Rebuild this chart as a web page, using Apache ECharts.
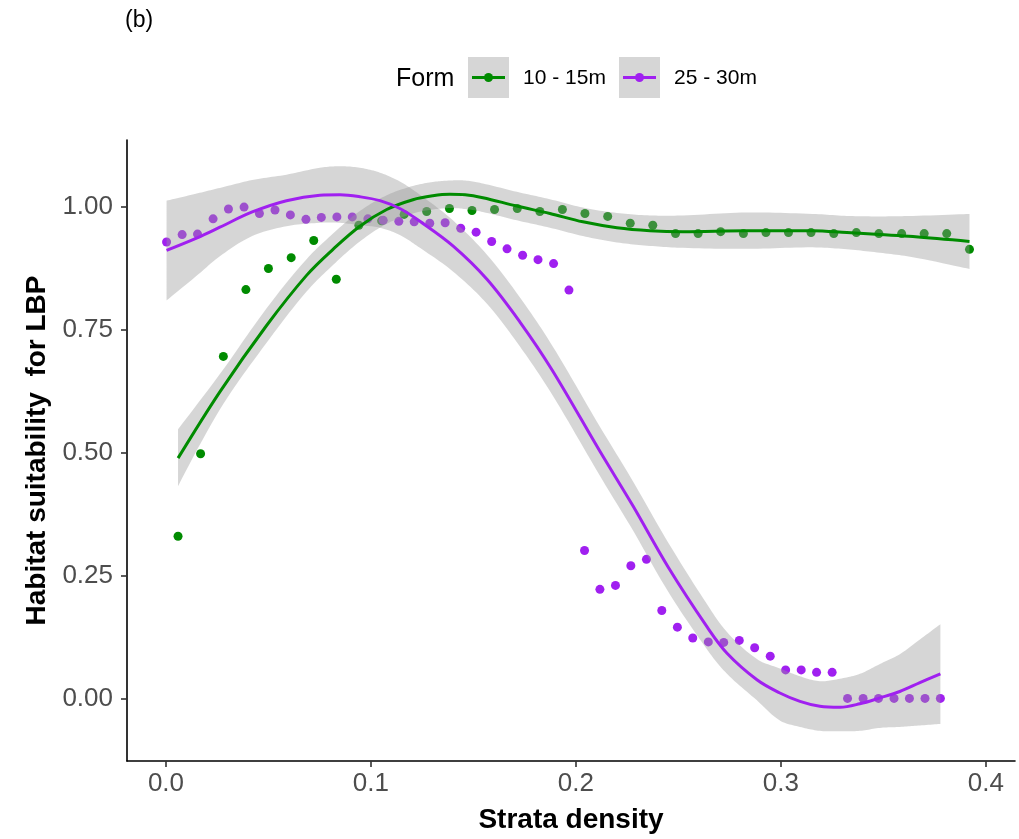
<!DOCTYPE html>
<html>
<head>
<meta charset="utf-8">
<title>Habitat suitability for LBP</title>
<script src="https://cdn.jsdelivr.net/npm/echarts@6/dist/echarts.min.js"></script>
<style>
  html, body { margin: 0; padding: 0; background: #ffffff; }
  #chart { width: 1019px; height: 839px; }
</style>
</head>
<body>
<div id="chart"></div>
<script>
// Observed habitat suitability, form 10 - 15m
const greenX = [0.0059, 0.0169, 0.0280, 0.0390, 0.0500, 0.0611, 0.0721, 0.0831, 0.0941, 0.1052,
  0.1162, 0.1272, 0.1383, 0.1493, 0.1603, 0.1714, 0.1824, 0.1934, 0.2044, 0.2155,
  0.2265, 0.2375, 0.2486, 0.2596, 0.2706, 0.2817, 0.2927, 0.3037, 0.3147, 0.3258,
  0.3368, 0.3478, 0.3589, 0.3699, 0.3809, 0.3920];
const greenY = [0.330, 0.498, 0.696, 0.832, 0.875, 0.897, 0.932, 0.853, 0.963, 0.972,
  0.985, 0.991, 0.997, 0.993, 0.995, 0.997, 0.991, 0.995, 0.987, 0.981,
  0.967, 0.963, 0.946, 0.946, 0.950, 0.946, 0.948, 0.948, 0.948, 0.946,
  0.948, 0.946, 0.946, 0.946, 0.946, 0.914];

// Observed habitat suitability, form 25 - 30m
const purpleX = [0.0003, 0.0079, 0.0154, 0.0230, 0.0305, 0.0381, 0.0456, 0.0532, 0.0607, 0.0683,
  0.0758, 0.0834, 0.0909, 0.0985, 0.1060, 0.1136, 0.1211, 0.1287, 0.1362, 0.1438,
  0.1513, 0.1589, 0.1664, 0.1740, 0.1815, 0.1891, 0.1966, 0.2042, 0.2117, 0.2193,
  0.2268, 0.2344, 0.2419, 0.2495, 0.2570, 0.2646, 0.2721, 0.2797, 0.2872, 0.2948,
  0.3023, 0.3099, 0.3174, 0.3250, 0.3325, 0.3401, 0.3476, 0.3552, 0.3627, 0.3703,
  0.3778];
const purpleY = [0.929, 0.944, 0.945, 0.976, 0.996, 1.000, 0.987, 0.994, 0.984, 0.975,
  0.979, 0.980, 0.980, 0.976, 0.973, 0.971, 0.970, 0.967, 0.968, 0.957,
  0.949, 0.930, 0.915, 0.902, 0.893, 0.885, 0.831, 0.301, 0.222, 0.230,
  0.270, 0.283, 0.179, 0.145, 0.123, 0.115, 0.114, 0.118, 0.103, 0.086,
  0.058, 0.058, 0.053, 0.053, 0.000, 0.000, 0.000, 0.000, 0.000, 0.000,
  0.000];

// Smoothed trend with confidence band, form 10 - 15m
const greenFitX = [0.0059, 0.0263, 0.0491, 0.0686, 0.0815, 0.0946, 0.1077, 0.1205, 0.1302, 0.1385,
  0.1460, 0.1546, 0.1712, 0.1873, 0.2034, 0.2200, 0.2361, 0.2522, 0.2834, 0.3156,
  0.3322, 0.3483, 0.3644, 0.3920];
const greenFit = [0.489, 0.624, 0.759, 0.861, 0.914, 0.961, 0.995, 1.015, 1.023, 1.026,
  1.025, 1.019, 1.002, 0.987, 0.970, 0.958, 0.952, 0.950, 0.952, 0.952,
  0.948, 0.944, 0.940, 0.930];
const greenLo = [0.432, 0.588, 0.724, 0.828, 0.882, 0.930, 0.966, 0.987, 0.995, 0.998,
  0.996, 0.990, 0.973, 0.958, 0.941, 0.928, 0.921, 0.917, 0.915, 0.918,
  0.914, 0.907, 0.898, 0.874];
const greenHi = [0.548, 0.660, 0.794, 0.894, 0.946, 0.992, 1.024, 1.043, 1.051, 1.054,
  1.054, 1.048, 1.031, 1.016, 0.999, 0.988, 0.983, 0.983, 0.989, 0.986,
  0.982, 0.981, 0.982, 0.986];

// Smoothed trend with confidence band, form 25 - 30m
const purpleFitX = [0.0003, 0.0155, 0.0263, 0.0421, 0.0588, 0.0751, 0.0849, 0.0946, 0.1044, 0.1141,
  0.1239, 0.1400, 0.1566, 0.1727, 0.1883, 0.2117, 0.2278, 0.2449, 0.2639, 0.2737,
  0.2883, 0.2995, 0.3093, 0.3190, 0.3288, 0.3385, 0.3483, 0.3580, 0.3678, 0.3778];
const purpleFit = [0.912, 0.938, 0.959, 0.990, 1.013, 1.024, 1.025, 1.021, 1.013, 0.997,
  0.971, 0.921, 0.853, 0.766, 0.669, 0.503, 0.392, 0.268, 0.146, 0.092,
  0.038, 0.011, -0.006, -0.016, -0.018, -0.011, 0.001, 0.014, 0.032, 0.050];
const purpleLo = [0.810, 0.862, 0.900, 0.941, 0.961, 0.968, 0.968, 0.963, 0.958, 0.943,
  0.917, 0.869, 0.803, 0.716, 0.619, 0.453, 0.342, 0.218, 0.100, 0.050,
  -0.004, -0.045, -0.058, -0.066, -0.067, -0.066, -0.060, -0.058, -0.055, -0.052];
const purpleHi = [1.013, 1.028, 1.039, 1.055, 1.066, 1.080, 1.083, 1.080, 1.070, 1.052,
  1.025, 0.973, 0.903, 0.816, 0.719, 0.553, 0.442, 0.318, 0.192, 0.135,
  0.080, 0.061, 0.045, 0.035, 0.040, 0.050, 0.070, 0.090, 0.120, 0.151];

// Axis ticks
const xTicks = [0, 0.1, 0.2, 0.3, 0.4];
const yTicks = [0, 0.25, 0.5, 0.75, 1];

const seriesNames = ['10 - 15m', '25 - 30m'];
const GREEN = '#008B00';
const PURPLE = '#A020F0';
const BAND = 'rgba(153,153,153,0.4)';
const SMOOTH = 0.35;
const FONT = '"Liberation Sans", Arial, Helvetica, sans-serif';

const zip = (xs, ys) => xs.map((x, i) => [x, ys[i]]);

// Bezier-smoothed edge through pixel points, same control-point rule as smoothed line series
function smoothEdge(pts, smooth) {
  const n = pts.length;
  const before = [], after = [];
  for (let i = 0; i < n; i++) {
    const p = pts[i];
    if (i === 0 || i === n - 1) { before.push(p); after.push(p); continue; }
    const a = pts[i - 1], b = pts[i + 1];
    const vx = b[0] - a[0], vy = b[1] - a[1];
    const l0 = Math.hypot(p[0] - a[0], p[1] - a[1]);
    const l1 = Math.hypot(b[0] - p[0], b[1] - p[1]);
    const r = l1 / (l0 + l1);
    after.push([p[0] + vx * smooth * r, p[1] + vy * smooth * r]);
    before.push([p[0] - vx * smooth * (1 - r), p[1] - vy * smooth * (1 - r)]);
  }
  const out = [pts[0]];
  const steps = 12;
  for (let i = 0; i < n - 1; i++) {
    const p0 = pts[i], c1 = after[i], c2 = before[i + 1], p3 = pts[i + 1];
    for (let k = 1; k <= steps; k++) {
      const t = k / steps, u = 1 - t;
      out.push([
        u * u * u * p0[0] + 3 * u * u * t * c1[0] + 3 * u * t * t * c2[0] + t * t * t * p3[0],
        u * u * u * p0[1] + 3 * u * u * t * c1[1] + 3 * u * t * t * c2[1] + t * t * t * p3[1]
      ]);
    }
  }
  return out;
}

// Confidence band drawn as one polygon: upper edge forward, lower edge back
function ribbon(xs, lo, hi) {
  return {
    type: 'custom',
    coordinateSystem: 'cartesian2d',
    silent: true,
    z: 3,
    data: [[xs[0], lo[0]]],
    renderItem: function (params, api) {
      const upper = smoothEdge(xs.map((x, i) => api.coord([x, hi[i]])), SMOOTH);
      const lower = smoothEdge(xs.map((x, i) => api.coord([x, lo[i]])), SMOOTH).reverse();
      return {
        type: 'polygon',
        shape: { points: upper.concat(lower) },
        style: { fill: BAND }
      };
    }
  };
}

function points(name, xs, ys, color) {
  return {
    name: name,
    type: 'scatter',
    z: 2,
    symbol: 'circle',
    symbolSize: 9,
    data: zip(xs, ys),
    itemStyle: { color: color, opacity: 1 },
    emphasis: { disabled: true }
  };
}

function trend(name, xs, ys, color) {
  return {
    name: name,
    type: 'line',
    z: 4,
    smooth: SMOOTH,
    showSymbol: false,
    data: zip(xs, ys),
    lineStyle: { color: color, width: 3 },
    emphasis: { disabled: true }
  };
}

const axisLineStyle = { color: '#000000', width: 1.6 };

// Legend drawn by hand: grey key boxes with line + dot
function legendKey(left, color, label) {
  return [
    { type: 'rect', shape: { x: left, y: 57, width: 41, height: 41 }, style: { fill: '#d6d6d6' } },
    { type: 'line', shape: { x1: left + 4, y1: 77.5, x2: left + 37, y2: 77.5 }, style: { stroke: color, lineWidth: 3 } },
    { type: 'circle', shape: { cx: left + 20.5, cy: 77.5, r: 4.5 }, style: { fill: color } },
    { type: 'text', x: left + 55, y: 78, style: { text: label, font: '21px ' + FONT, fill: '#000000', verticalAlign: 'middle' } }
  ];
}

const option = {
  animation: false,
  backgroundColor: '#ffffff',
  textStyle: { fontFamily: FONT },
  grid: { left: 127, right: 4, top: 140, height: 625, containLabel: false },
  xAxis: {
    type: 'value',
    min: -0.019,
    max: 0.4142,
    name: 'Strata density',
    nameLocation: 'middle',
    nameGap: 45,
    nameTextStyle: { fontSize: 28, fontWeight: 'bold', color: '#000000', fontFamily: FONT },
    axisLine: { show: true, onZero: false, lineStyle: axisLineStyle },
    axisTick: { show: true, length: 6, customValues: xTicks, lineStyle: { color: '#333333', width: 1.6 } },
    axisLabel: {
      customValues: xTicks,
      formatter: v => v.toFixed(1),
      fontSize: 26,
      color: '#4D4D4D',
      margin: 10,
      fontFamily: FONT
    },
    splitLine: { show: false }
  },
  yAxis: {
    type: 'value',
    min: -0.1274,
    max: 1.1365,
    name: 'Habitat suitability  for LBP',
    nameLocation: 'middle',
    nameGap: 72,
    nameTextStyle: { fontSize: 28, fontWeight: 'bold', color: '#000000', fontFamily: FONT },
    axisLine: { show: true, onZero: false, lineStyle: axisLineStyle },
    axisTick: { show: true, length: 6, customValues: yTicks, lineStyle: { color: '#333333', width: 1.6 } },
    axisLabel: {
      customValues: yTicks,
      formatter: v => v.toFixed(2),
      fontSize: 26,
      color: '#4D4D4D',
      margin: 14,
      fontFamily: FONT
    },
    splitLine: { show: false }
  },
  graphic: [
    { type: 'text', x: 125, y: 21, style: { text: '(b)', font: '23px ' + FONT, fill: '#000000', verticalAlign: 'middle' } },
    { type: 'text', x: 396, y: 79, style: { text: 'Form', font: '25px ' + FONT, fill: '#000000', verticalAlign: 'middle' } }
  ].concat(legendKey(468, GREEN, seriesNames[0]), legendKey(619, PURPLE, seriesNames[1])),
  series: [
    points(seriesNames[0], greenX, greenY, GREEN),
    points(seriesNames[1], purpleX, purpleY, PURPLE),
    ribbon(greenFitX, greenLo, greenHi),
    ribbon(purpleFitX, purpleLo, purpleHi),
    trend(seriesNames[0], greenFitX, greenFit, GREEN),
    trend(seriesNames[1], purpleFitX, purpleFit, PURPLE)
  ]
};

const chart = echarts.init(document.getElementById('chart'), null, { renderer: 'canvas' });
chart.setOption(option);
</script>
</body>
</html>
